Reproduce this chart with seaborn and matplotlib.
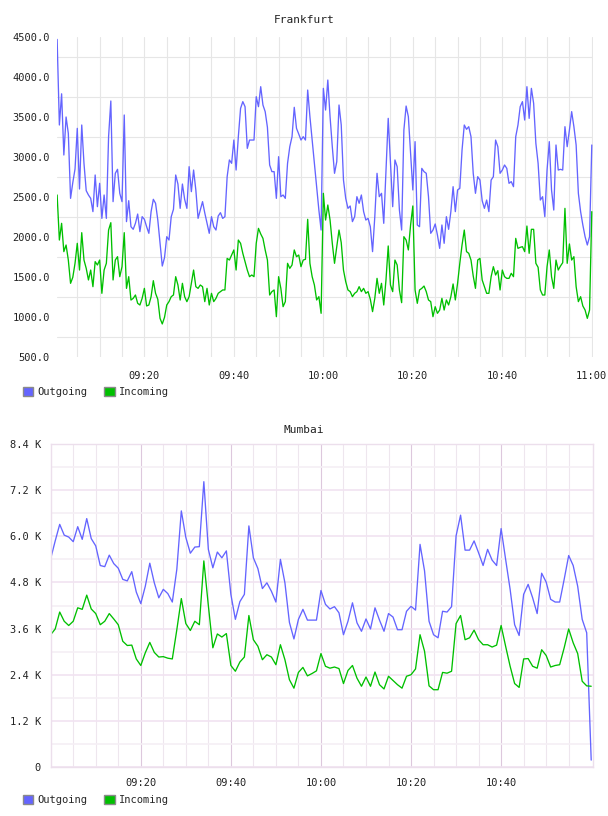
import matplotlib
matplotlib.use('Agg')
import matplotlib.pyplot as plt
from matplotlib.patches import Patch
import seaborn as sns
import numpy as np

sns.set_style('white')
plt.rcParams['font.family'] = ['DejaVu Sans Mono']

# Frankfurt: one sample every 30 s, 09:00:30 .. 11:00:00 (minutes after 09:00)
fr_minutes = np.arange(240) * 0.5 + 0.5
fr_outgoing = [
    4470, 3400, 3790, 3025, 3500, 3296, 2483, 2680, 2850, 3358,
    2600, 3400, 2920, 2579, 2525, 2483, 2317, 2775, 2379, 2671,
    2233, 2525, 2233, 3254, 3700, 2442, 2796, 2846, 2546, 2442,
    3525, 2192, 2454, 2129, 2096, 2171, 2287, 2067, 2254, 2221,
    2129, 2046, 2317, 2471, 2421, 2212, 1921, 1637, 1742, 2004,
    1962, 2254, 2346, 2775, 2662, 2358, 2662, 2471, 2358, 2879,
    2567, 2837, 2588, 2233, 2337, 2442, 2300, 2171, 2046, 2254,
    2129, 2087, 2262, 2304, 2233, 2254, 2754, 2963, 2921, 3212,
    2837, 3254, 3608, 3692, 3629, 3108, 3212, 3212, 3212, 3754,
    3629, 3879, 3650, 3567, 3371, 2900, 2817, 2817, 2483, 3004,
    2504, 2525, 2483, 2921, 3129, 3254, 3621, 3358, 3287, 3212,
    3254, 3212, 3837, 3504, 3212, 2912, 2629, 2337, 2087, 3858,
    3587, 3962, 3504, 3129, 2796, 2942, 3650, 3400, 2712, 2483,
    2358, 2388, 2192, 2254, 2504, 2421, 2525, 2317, 2212, 2233,
    2129, 1817, 2254, 2796, 2504, 2546, 2171, 2837, 3483, 2921,
    2379, 2963, 2879, 2337, 2087, 3337, 3637, 3504, 3046, 2588,
    3192, 2150, 2129, 2858, 2817, 2796, 2504, 2046, 2087, 2163,
    2025, 1858, 2150, 1921, 2254, 2096, 2317, 2629, 2317, 2588,
    2608, 3087, 3400, 3346, 3379, 3254, 2796, 2546, 2754, 2712,
    2454, 2358, 2462, 2317, 2712, 2754, 3212, 3129, 2796, 2837,
    2900, 2858, 2671, 2692, 2629, 3254, 3400, 3629, 3692, 3462,
    3879, 3483, 3858, 3671, 3171, 2921, 2462, 2504, 2254, 2837,
    3192, 2588, 2337, 3150, 2837, 2846, 2837, 3379, 3129, 3337,
    3567, 3379, 3150, 2546, 2317, 2150, 2004, 1900, 2004, 3150,
]
fr_incoming = [
    2525, 1962, 2171, 1817, 1900, 1712, 1421, 1496, 1671, 1921,
    1587, 2054, 1712, 1608, 1463, 1587, 1379, 1692, 1650, 1712,
    1296, 1587, 1671, 2087, 2179, 1463, 1712, 1754, 1504, 1629,
    2054, 1358, 1504, 1212, 1233, 1275, 1171, 1150, 1233, 1358,
    1138, 1150, 1254, 1454, 1296, 1221, 983, 913, 996, 1150,
    1192, 1254, 1275, 1504, 1400, 1212, 1421, 1254, 1192, 1254,
    1421, 1587, 1379, 1358, 1400, 1379, 1192, 1358, 1150, 1296,
    1192, 1233, 1296, 1317, 1338, 1338, 1733, 1712, 1775, 1838,
    1587, 1962, 1921, 1796, 1692, 1587, 1504, 1525, 1504, 1921,
    2108, 2038, 1983, 1838, 1712, 1275, 1317, 1338, 1004, 1504,
    1358, 1129, 1192, 1671, 1608, 1650, 1838, 1754, 1775, 1629,
    1712, 1721, 2221, 1671, 1504, 1400, 1213, 1254, 1046, 2546,
    2212, 2400, 2212, 1921, 1671, 1879, 2087, 1929, 1587, 1442,
    1338, 1317, 1254, 1296, 1317, 1379, 1317, 1358, 1296, 1317,
    1221, 1067, 1233, 1483, 1296, 1421, 1150, 1463, 1888, 1400,
    1317, 1712, 1650, 1338, 1179, 2004, 1962, 1838, 2150, 2388,
    1338, 1171, 1338, 1358, 1387, 1317, 1213, 1192, 1004, 1129,
    1046, 1087, 1233, 1087, 1213, 1150, 1254, 1413, 1213, 1421,
    1671, 1900, 2087, 1817, 1796, 1712, 1512, 1358, 1712, 1733,
    1463, 1379, 1296, 1296, 1504, 1629, 1525, 1579, 1338, 1587,
    1504, 1483, 1483, 1546, 1504, 1983, 1858, 1871, 1879, 1817,
    2137, 1796, 2096, 2096, 1671, 1621, 1338, 1275, 1275, 1629,
    1838, 1504, 1358, 1712, 1587, 1637, 1679, 2358, 1671, 1913,
    1712, 1754, 1379, 1192, 1254, 1138, 1087, 983, 1087, 2317,
]

# Mumbai: one sample per minute, 09:00 .. 11:00
mu_minutes = np.arange(121)
mu_outgoing = [
    5420, 5880, 6310, 6030, 5980, 5860, 6250, 5920, 6460, 5940, 5750,
    5240, 5210, 5510, 5290, 5170, 4880, 4840, 5080, 4550, 4250,
    4700, 5300, 4790, 4400, 4620, 4510, 4290, 5140, 6660, 5970,
    5560, 5720, 5730, 7420, 5660, 5180, 5590, 5440, 5620, 4490,
    3840, 4300, 4490, 6270, 5440, 5160, 4640, 4790, 4570, 4290,
    5400, 4790, 3760, 3330, 3840, 4100, 3820, 3820, 3820, 4590,
    4230, 4110, 4170, 4010, 3440, 3790, 4270, 3750, 3530, 3850,
    3590, 4140, 3820, 3530, 3990, 3900, 3570, 3570, 4050, 4180,
    4080, 5790, 5100, 3790, 3440, 3360, 4050, 4030, 4170, 6010,
    6550, 5640, 5640, 5880, 5570, 5240, 5660, 5380, 5240, 6200,
    5400, 4620, 3700, 3420, 4490, 4750, 4400, 3990, 5040, 4810,
    4360, 4290, 4290, 4880, 5500, 5240, 4700, 3840, 3490, 180,
]
mu_incoming = [
    3440, 3590, 4030, 3790, 3680, 3790, 4140, 4100, 4470, 4110, 3990,
    3700, 3790, 3990, 3850, 3700, 3270, 3160, 3170, 2810, 2640,
    2970, 3240, 2980, 2860, 2870, 2830, 2810, 3570, 4380, 3730,
    3550, 3790, 3700, 5360, 4200, 3100, 3460, 3380, 3470, 2640,
    2490, 2730, 2860, 3940, 3310, 3140, 2790, 2920, 2860, 2660,
    3180, 2790, 2270, 2050, 2460, 2590, 2370, 2430, 2500, 2950,
    2620, 2570, 2600, 2560, 2170, 2510, 2640, 2310, 2100, 2340,
    2100, 2470, 2140, 2030, 2360, 2250, 2140, 2050, 2360, 2400,
    2550, 3440, 3010, 2110, 2010, 2010, 2460, 2440, 2490, 3730,
    3940, 3310, 3360, 3560, 3310, 3180, 3180, 3120, 3170, 3680,
    3140, 2620, 2170, 2070, 2810, 2820, 2620, 2570, 3050, 2900,
    2600, 2640, 2660, 3100, 3590, 3230, 2950, 2230, 2110, 2100,
]

time_ticks = [20, 40, 60, 80, 100, 120]
time_labels = ['09:20', '09:40', '10:00', '10:20', '10:40', '11:00']
fr_yticks = [500, 1000, 1500, 2000, 2500, 3000, 3500, 4000, 4500]
mu_yticks = [0, 1200, 2400, 3600, 4800, 6000, 7200, 8400]
mu_ylabels = ['0', '1.2 K', '2.4 K', '3.6 K', '4.8 K', '6.0 K', '7.2 K', '8.4 K']

OUT_C = '#6464ff'
IN_C = '#00c000'
W, H = 608, 816

fig = plt.figure(figsize=(W / 100, H / 100), dpi=100)
ax1 = fig.add_axes([57 / W, 1 - 357 / H, 536 / W, 320 / H])
ax2 = fig.add_axes([50.7 / W, 1 - 767 / H, 542.3 / W, 323 / H])

# --- Frankfurt
sns.lineplot(x=fr_minutes, y=fr_outgoing, ax=ax1, color=OUT_C, lw=0.95, estimator=None)
sns.lineplot(x=fr_minutes, y=fr_incoming, ax=ax1, color=IN_C, lw=0.95, estimator=None)
ax1.set_xlim(0.47, 120.27)
ax1.set_ylim(500, 4500)
ax1.set_xticks(time_ticks, time_labels)
ax1.set_xticks(np.arange(5, 120, 5), minor=True)
ax1.set_yticks(fr_yticks, [f'{v:.1f}' for v in fr_yticks])
ax1.set_yticks(np.arange(750, 4500, 500), minor=True)
ax1.grid(which='both', axis='x', color='#e6e6e6', lw=0.8)
ax1.grid(which='minor', axis='y', color='#e6e6e6', lw=0.8)
ax1.grid(which='major', axis='y', visible=False)
ax1.tick_params(which='both', length=0, labelsize=7.5, colors='#222222')
ax1.tick_params(axis='x', pad=10)
ax1.tick_params(axis='y', pad=5)
for s in ax1.spines.values():
    s.set_visible(False)

# --- Mumbai
sns.lineplot(x=mu_minutes, y=mu_outgoing, ax=ax2, color=OUT_C, lw=0.95, estimator=None)
sns.lineplot(x=mu_minutes, y=mu_incoming, ax=ax2, color=IN_C, lw=0.95, estimator=None)
ax2.set_xlim(0, 120.4)
ax2.set_ylim(0, 8400)
ax2.set_xticks(time_ticks[:-1], time_labels[:-1])
ax2.set_xticks(np.arange(5, 120, 5), minor=True)
ax2.set_yticks(mu_yticks, mu_ylabels)
ax2.set_yticks(np.arange(600, 8400, 1200), minor=True)
ax2.grid(which='major', axis='x', color='#ddc8dd', lw=0.8)
ax2.grid(which='minor', axis='x', color='#eee6ee', lw=0.8)
ax2.grid(which='major', axis='y', color='#f1e3f1', lw=1.2)
ax2.grid(which='minor', axis='y', color='#f5eff5', lw=1.2)
ax2.tick_params(which='both', length=0, labelsize=7.5, colors='#222222')
ax2.tick_params(axis='x', pad=8)
ax2.tick_params(axis='y', pad=7)
for s in ax2.spines.values():
    s.set_color('#ecdfec')
    s.set_linewidth(1.0)

for ax in (ax1, ax2):
    ax.set_axisbelow(True)
    ax.set_xlabel('')
    ax.set_ylabel('')

fig.text(0.5, 1 - 20 / H, 'Frankfurt', ha='center', va='center', fontsize=8, color='#222222')
fig.text(0.5, 1 - 430 / H, 'Mumbai', ha='center', va='center', fontsize=8, color='#222222')

handles = [Patch(facecolor=OUT_C, edgecolor='#8a8a8a', label='Outgoing'),
           Patch(facecolor=IN_C, edgecolor='#8a8a8a', label='Incoming')]
for yc in (392, 800):
    fig.legend(handles=handles, loc='center left', bbox_to_anchor=(23 / W, 1 - yc / H),
               ncol=2, frameon=False, fontsize=7.5, handlelength=1.0, handleheight=1.0,
               handletextpad=0.4, columnspacing=1.6, borderaxespad=0, borderpad=0)

fig.savefig('out.png', dpi=100)
